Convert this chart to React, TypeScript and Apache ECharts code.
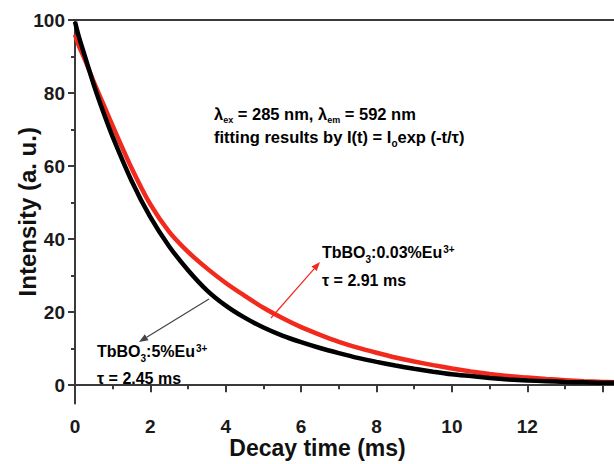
import React, { useEffect, useRef } from "react";
import * as echarts from "echarts";

const timeMs = [0, 0.1, 0.25, 0.5, 0.75, 1, 1.5, 2, 2.5, 3, 3.5, 4, 4.5, 5, 5.5, 6, 6.5, 7, 7.5, 8, 8.5, 9, 9.5, 10, 10.5, 11, 11.5, 12, 12.5, 13, 13.5, 14, 14.3];
const black5Eu = [99.5, 95.5, 90.5, 82.2, 74.8, 68, 56, 46, 38, 31.5, 26, 21.8, 18.5, 15.8, 13.6, 11.8, 10.2, 8.8, 7.5, 6.4, 5.4, 4.5, 3.7, 3.0, 2.5, 2.0, 1.6, 1.3, 1.1, 0.9, 0.8, 0.7, 0.7];
const red003Eu = [96, 93, 89.5, 83, 77, 71, 59.5, 49.5, 42, 36.5, 32, 28, 24.5, 21.2, 18.4, 15.9, 13.8, 11.9, 10.3, 8.9, 7.6, 6.5, 5.5, 4.6, 3.8, 3.1, 2.5, 2.1, 1.7, 1.4, 1.1, 0.9, 0.8];

const yTickValues = [0, 20, 40, 60, 80, 100];
const yMinorTicks = [10, 30, 50, 70, 90];
const xTickValues = [0, 2, 4, 6, 8, 10, 12, 14];
const xLabelValues = [0, 2, 4, 6, 8, 10, 12];
const xMinorTicks = [1, 3, 5, 7, 9, 11, 13];

const RED = "#f2291d";
const AXIS = "#3a3a3a";
const FONT = "Liberation Sans, Arial, sans-serif";

function arrow(x1: number, y1: number, x2: number, y2: number, color: string) {
  const dx = x2 - x1, dy = y2 - y1;
  const len = Math.sqrt(dx * dx + dy * dy);
  const ux = dx / len, uy = dy / len;
  const hl = 9, hw = 3.5;
  const bx = x2 - ux * hl, by = y2 - uy * hl;
  return [
    { type: "line", shape: { x1, y1, x2: bx, y2: by }, style: { stroke: color, lineWidth: 1.2 } },
    {
      type: "polygon",
      shape: { points: [[x2, y2], [bx - uy * hw, by + ux * hw], [bx + uy * hw, by - ux * hw]] },
      style: { fill: color },
    },
  ];
}

const richBase = (color: string, size: number, subSize: number) => ({
  n: { fontSize: size, fontWeight: "bold", fontFamily: FONT, color, lineHeight: size, verticalAlign: "top" },
  sub: { fontSize: subSize, fontWeight: "bold", fontFamily: FONT, color, lineHeight: subSize, verticalAlign: "top", padding: [size - 6, 0, 0, 0] },
  sup: { fontSize: subSize, fontWeight: "bold", fontFamily: FONT, color, lineHeight: subSize, verticalAlign: "top", padding: [0, 0, 0, 1] },
});

export default function App() {
  const ref = useRef<HTMLDivElement>(null);
  useEffect(() => {
    document.body.style.margin = "0";
    const chart = echarts.init(ref.current!, null, { renderer: "svg" });
    const axisLabelStyle = { fontSize: 19, lineHeight: 19, fontWeight: "bold", fontFamily: FONT, color: "#1a1a1a" };
    chart.setOption({
      animation: false,
      backgroundColor: "#fff",
      grid: { left: 75, right: 0, top: 20, bottom: 59 },
      xAxis: [
        {
          type: "value", min: 0, max: 14.3, position: "bottom",
          name: "Decay time (ms)", nameLocation: "middle", nameGap: 33, nameMoveOverlap: false,
          nameTextStyle: { fontSize: 23, lineHeight: 22, fontWeight: "bold", fontFamily: FONT, color: "#111", padding: [0, 54, 0, 0] },
          axisLine: { show: true, lineStyle: { color: AXIS, width: 2 } },
          axisTick: { show: true, customValues: xTickValues, length: 7, lineStyle: { color: AXIS, width: 2 } },
          axisLabel: { customValues: xLabelValues, margin: 13, ...axisLabelStyle },
          splitLine: { show: false },
        },
        {
          type: "value", min: 0, max: 14.3, position: "bottom",
          axisLine: { show: false },
          axisTick: { show: true, customValues: xMinorTicks, length: 4, lineStyle: { color: AXIS, width: 2 } },
          axisLabel: { show: false },
          splitLine: { show: false },
        },
        {
          type: "value", min: 0, max: 14.3, position: "top",
          axisLine: { show: true, lineStyle: { color: AXIS, width: 2 } },
          axisTick: { show: false },
          axisLabel: { show: false },
          splitLine: { show: false },
        },
      ],
      yAxis: [
        {
          type: "value", min: -5, max: 100, position: "left",
          name: "Intensity (a. u.)", nameLocation: "middle", nameGap: 36, nameMoveOverlap: false,
          nameTextStyle: { fontSize: 24, lineHeight: 24, fontWeight: "bold", fontFamily: FONT, color: "#111" },
          axisLine: { show: true, lineStyle: { color: AXIS, width: 2 } },
          axisTick: { show: true, customValues: yTickValues, length: 7, lineStyle: { color: AXIS, width: 2 } },
          axisLabel: { customValues: yTickValues, margin: 10, ...axisLabelStyle },
          splitLine: { show: false },
        },
        {
          type: "value", min: -5, max: 100, position: "left", offset: 0,
          axisLine: { show: false },
          axisTick: { show: true, customValues: yMinorTicks, length: 4, lineStyle: { color: AXIS, width: 2 } },
          axisLabel: { show: false },
          splitLine: { show: false },
        },
      ],
      series: [
        {
          name: "TbBO3:0.03%Eu3+", type: "line", xAxisIndex: 0, yAxisIndex: 0,
          data: timeMs.map((t, i) => [t, red003Eu[i]]),
          showSymbol: false, smooth: 0.3,
          lineStyle: { color: RED, width: 4.5 }, z: 2,
        },
        {
          name: "TbBO3:5%Eu3+", type: "line", xAxisIndex: 0, yAxisIndex: 0,
          data: timeMs.map((t, i) => [t, black5Eu[i]]),
          showSymbol: false, smooth: 0.3,
          lineStyle: { color: "#000", width: 4.5 }, z: 3,
        },
      ],
      graphic: [
        {
          type: "text", x: 214, y: 105,
          style: { text: "{n|λ}{sub|ex}{n| = 285 nm, λ}{sub|em}{n| = 592 nm}", rich: richBase("#1a1a1a", 16.5, 9) },
        },
        {
          type: "text", x: 214, y: 128,
          style: { text: "{n|fitting results by I(t) = I}{sub|o}{n|exp (-t/τ)}", rich: richBase("#1a1a1a", 16.5, 10) },
        },
        {
          type: "text", x: 322, y: 244,
          style: { text: "{n|TbBO}{sub|3}{n|:0.03%Eu}{sup|3+}", rich: richBase(RED, 16, 10) },
        },
        {
          type: "text", x: 322, y: 272.5,
          style: { text: "{n|τ = 2.91 ms}", rich: richBase(RED, 16, 10) },
        },
        {
          type: "text", x: 97, y: 343.5,
          style: { text: "{n|TbBO}{sub|3}{n|:5%Eu}{sup|3+}", rich: richBase("#1a1a1a", 16, 10) },
        },
        {
          type: "text", x: 97, y: 370.5,
          style: { text: "{n|τ = 2.45 ms}", rich: richBase("#1a1a1a", 16, 10) },
        },
        ...arrow(271, 318, 320, 262, RED),
        ...arrow(209, 299, 139, 342, "#444"),
      ],
    });
    return () => chart.dispose();
  }, []);
  return <div ref={ref} style={{ width: 614, height: 464 }} />;
}
